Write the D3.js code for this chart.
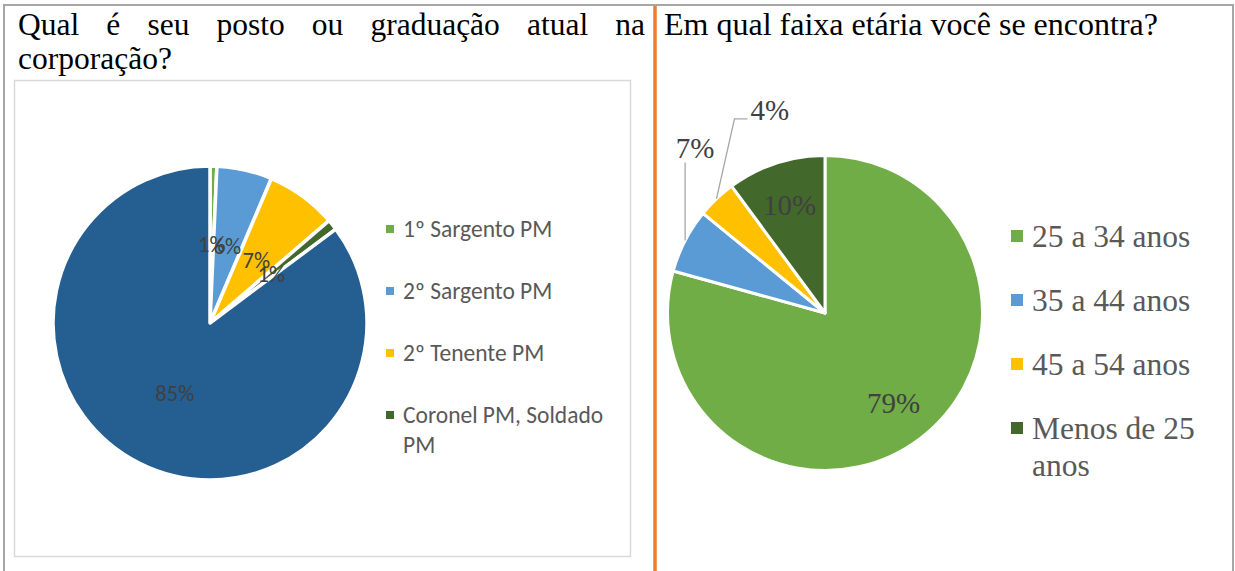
<!DOCTYPE html>
<html>
<head>
<meta charset="utf-8">
<script src="https://cdn.jsdelivr.net/npm/d3@7"></script>
<style>
  body { margin: 0; background: #fff; }
</style>
</head>
<body>
<div id="chart"></div>
<script>
// Left chart: rank in the corporation
var rankTitle = "Qual é seu posto ou graduação atual na corporação?";
var rankNames = ["1º Sargento PM", "2º Sargento PM", "2º Tenente PM", "Coronel PM, Soldado PM", "Soldado PM"];
var rankValues = [0.7, 5.7, 7.3, 1.1, 85.2];
var rankLabels = ["1%", "6%", "7%", "1%", "85%"];
var rankColors = ["#70ad47", "#5b9bd5", "#ffc000", "#43682b", "#255e91"];
var rankLegendCount = 4; // the last entry does not fit in the legend box

// Right chart: age group
var ageTitle = "Em qual faixa etária você se encontra?";
var ageNames = ["25 a 34 anos", "35 a 44 anos", "45 a 54 anos", "Menos de 25 anos"];
var ageValues = [79.3, 6.6, 4.0, 10.1];
var ageLabels = ["79%", "7%", "4%", "10%"];
var ageColors = ["#70ad47", "#5b9bd5", "#ffc000", "#43682b"];

var W = 1235, H = 571;
var serif = "'Times New Roman', 'Liberation Serif', serif";
var sans = "Calibri, Carlito, Lato, sans-serif";

var svg = d3.select("#chart").append("svg")
  .attr("width", W)
  .attr("height", H);

// table frame
svg.append("line").attr("x1", 3).attr("x2", 1234).attr("y1", 5).attr("y2", 5)
  .style("stroke", "#a6a6a6").style("stroke-width", 2);
svg.append("line").attr("x1", 4).attr("x2", 4).attr("y1", 4).attr("y2", H)
  .style("stroke", "#a6a6a6").style("stroke-width", 2);
svg.append("line").attr("x1", 1233).attr("x2", 1233).attr("y1", 4).attr("y2", H)
  .style("stroke", "#a6a6a6").style("stroke-width", 2);
svg.append("line").attr("x1", 655).attr("x2", 655).attr("y1", 6).attr("y2", H)
  .style("stroke", "#ed7d31").style("stroke-width", 3.5);

// chart area box of the left chart
svg.append("rect")
  .attr("x", 14.5).attr("y", 80.5).attr("width", 616).attr("height", 476)
  .style("fill", "none").style("stroke", "#d9d9d9").style("stroke-width", 1.5);

// justified title (all lines but the last are stretched to the full width)
function drawTitle(text, x, y, maxW, lineH, size) {
  var g = svg.append("g").attr("transform", "translate(" + x + "," + y + ")");
  var probe = g.append("text").style("font-family", serif).style("font-size", size + "px");
  function width(s) { probe.text(s); return probe.node().getComputedTextLength(); }
  var space = width("a a") - width("aa");
  var words = text.split(" ");
  var lines = [], cur = [];
  words.forEach(function(w) {
    var test = cur.concat([w]).join(" ");
    if (cur.length && width(test) > maxW) { lines.push(cur); cur = [w]; }
    else cur.push(w);
  });
  lines.push(cur);

  lines.forEach(function(line, li) {
    var widths = line.map(function(w) { return width(w); });
    var total = d3.sum(widths);
    var last = li === lines.length - 1;
    var gap = (!last && line.length > 1) ? (maxW - total) / (line.length - 1) : space;
    var cx = 0;
    line.forEach(function(w, wi) {
      g.append("text")
        .attr("x", cx)
        .attr("y", li * lineH)
        .text(w)
        .style("font-family", serif)
        .style("font-size", size + "px")
        .style("fill", "#000");
      cx += widths[wi] + gap;
    });
  });
  probe.remove();
}

drawTitle(rankTitle, 18, 35, 627, 34, 31.5);
drawTitle(ageTitle, 664, 35, 560, 34, 32);

// word wrap for legend entries
function wrapLines(textEl, s, maxW) {
  var words = s.split(" "), lines = [], cur = [];
  words.forEach(function(w) {
    var test = cur.concat([w]).join(" ");
    textEl.text(test);
    if (cur.length && textEl.node().getComputedTextLength() > maxW) { lines.push(cur.join(" ")); cur = [w]; }
    else cur.push(w);
  });
  lines.push(cur.join(" "));
  textEl.text(null);
  return lines;
}

function drawPie(opt) {
  var g = svg.append("g").attr("transform", "translate(" + opt.cx + "," + opt.cy + ")");

  var pie = d3.pie().sort(null).value(function(d) { return d; });
  var arcs = pie(opt.values);

  var arc = d3.arc().innerRadius(0).outerRadius(opt.r);
  var labelArc = d3.arc().innerRadius(opt.r * opt.labelK).outerRadius(opt.r * opt.labelK);
  var edgeArc = d3.arc().innerRadius(opt.r).outerRadius(opt.r);

  g.selectAll("path.slice")
    .data(arcs)
    .enter()
    .append("path")
    .attr("class", "slice")
    .attr("d", arc)
    .style("fill", function(d, i) { return opt.colors[i]; })
    .style("stroke", "#fff")
    .style("stroke-width", opt.gap)
    .style("stroke-linejoin", "round");

  arcs.forEach(function(a, i) {
    var out = opt.outside && opt.outside[i];
    if (out) {
      // label outside with a leader line from the slice edge
      var p = edgeArc.centroid(a);
      var pts = [p].concat(out.path.map(function(o) { return [p[0] + o[0], p[1] + o[1]]; }));
      g.append("path")
        .attr("d", d3.line()(pts))
        .style("fill", "none")
        .style("stroke", "#a6a6a6")
        .style("stroke-width", 1.3);
      g.append("text")
        .attr("x", p[0] + out.label[0])
        .attr("y", p[1] + out.label[1])
        .attr("text-anchor", out.anchor)
        .text(opt.labels[i])
        .style("font-family", opt.font)
        .style("font-size", opt.labelSize + "px")
        .style("fill", "#404040");
    } else {
      var c = labelArc.centroid(a);
      g.append("text")
        .attr("x", c[0])
        .attr("y", c[1])
        .attr("dy", "0.35em")
        .attr("text-anchor", "middle")
        .text(opt.labels[i])
        .style("font-family", opt.font)
        .style("font-size", opt.labelSize + "px")
        .style("fill", "#404040");
    }
  });

  // legend
  var leg = svg.append("g").attr("transform", "translate(" + opt.legX + "," + opt.legY + ")");
  opt.names.slice(0, opt.legendCount).forEach(function(name, i) {
    var row = leg.append("g").attr("transform", "translate(0," + (i * opt.legStep) + ")");
    row.append("rect")
      .attr("x", 0)
      .attr("y", -opt.box / 2)
      .attr("width", opt.box)
      .attr("height", opt.box)
      .style("fill", opt.colors[i]);
    var t = row.append("text")
      .style("font-family", opt.font)
      .style("font-size", opt.legSize + "px")
      .style("fill", "#595959");
    var lines = wrapLines(t, name, opt.legWrap);
    lines.forEach(function(l, li) {
      t.append("tspan")
        .attr("x", opt.textDx)
        .attr("y", li * opt.legLineH)
        .attr("dy", "0.35em")
        .text(l);
    });
  });
}

drawPie({
  cx: 210, cy: 323, r: 157, gap: 3.5, labelK: 0.5,
  values: rankValues, labels: rankLabels, colors: rankColors, names: rankNames,
  legendCount: rankLegendCount,
  font: sans, labelSize: 22.5,
  legX: 386, legY: 229, legStep: 62, legLineH: 30, box: 8, textDx: 17,
  legSize: 23.5, legWrap: 212
});

drawPie({
  cx: 825, cy: 313, r: 157.5, gap: 3, labelK: 0.72,
  values: ageValues, labels: ageLabels, colors: ageColors, names: ageNames,
  legendCount: ageNames.length,
  font: serif, labelSize: 29,
  outside: {
    1: { path: [[0, -78]], label: [10, -83], anchor: "middle" },
    2: { path: [[18, -80], [31, -80]], label: [34, -79], anchor: "start" }
  },
  legX: 1011, legY: 236, legStep: 64, legLineH: 37, box: 12, textDx: 21,
  legSize: 31.5, legWrap: 185
});
</script>
</body>
</html>
